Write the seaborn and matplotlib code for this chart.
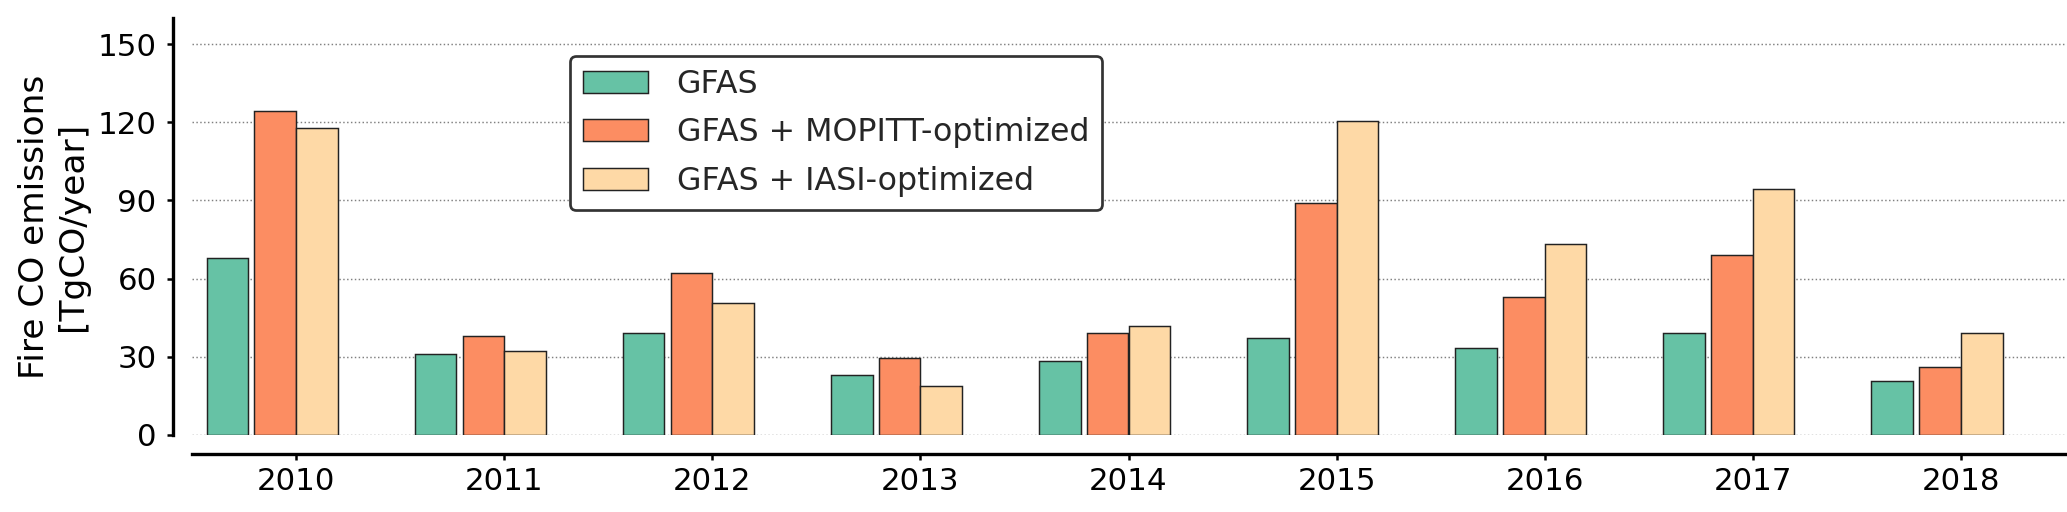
import numpy as np
import matplotlib
matplotlib.use("Agg")
import matplotlib.pyplot as plt
import seaborn as sns

years = [2010, 2011, 2012, 2013, 2014, 2015, 2016, 2017, 2018]
gfas = [68.0, 30.9, 39.2, 23.0, 28.5, 37.4, 33.2, 39.0, 20.8]
mopitt = [124.5, 38.0, 62.3, 29.4, 39.0, 89.0, 52.9, 69.1, 26.2]
iasi = [117.7, 32.4, 50.6, 18.7, 41.9, 120.5, 73.1, 94.5, 39.0]
series_names = ["GFAS", "GFAS + MOPITT-optimized", "GFAS + IASI-optimized"]
y_ticks = [0, 30, 60, 90, 120, 150]

colors = ["#66c2a5", "#fc8d62", "#fed9a6"]
offsets = [-0.33, -0.1, 0.1]

sns.set_theme(style="ticks")
plt.rcParams['font.family'] = ['DejaVu Sans']

W, H, DPI = 2067, 512, 150
fig = plt.figure(figsize=(W / DPI, H / DPI), dpi=DPI)
ax = fig.add_axes([192 / W, 77 / H, 1873 / W, 417 / H])

for vals, name, col, off in zip([gfas, mopitt, iasi], series_names, colors, offsets):
    sns.barplot(x=np.array(years, dtype=float) + off, y=vals, native_scale=True,
                width=0.2, color=col, saturation=1, edgecolor="#222222",
                linewidth=0.7, label=name, ax=ax, errorbar=None)

ax.set_xlim(2009.5, 2018.5)
ax.set_ylim(0, 160)
ax.set_xticks(years)
ax.set_xticklabels([str(y) for y in years])
ax.set_yticks(y_ticks)
ax.tick_params(axis="both", labelsize=14.8, colors="black", length=3, width=1.2)
ax.tick_params(axis="y", pad=5)
ax.yaxis.grid(True, linestyle=":", color="gray", linewidth=0.7)
ax.set_axisbelow(True)
ax.set_ylabel("Fire CO emissions\n[TgCO/year]", fontsize=16.5, color="black")
ax.set_xlabel("")

sns.despine(ax=ax, offset=9)
for s in ("left", "bottom"):
    ax.spines[s].set_linewidth(1.6)
    ax.spines[s].set_color("black")

leg = ax.legend(loc="upper left", bbox_to_anchor=(0.2018, 0.9096), borderaxespad=0,
                fontsize=15.2, frameon=True, fancybox=True, framealpha=1,
                handlelength=2.05, handleheight=0.7, handletextpad=0.9,
                borderpad=0.42, labelspacing=0.55)
leg.get_frame().set_edgecolor("#333333")
leg.get_frame().set_linewidth(1.3)

fig.savefig("out.png", dpi=DPI)
